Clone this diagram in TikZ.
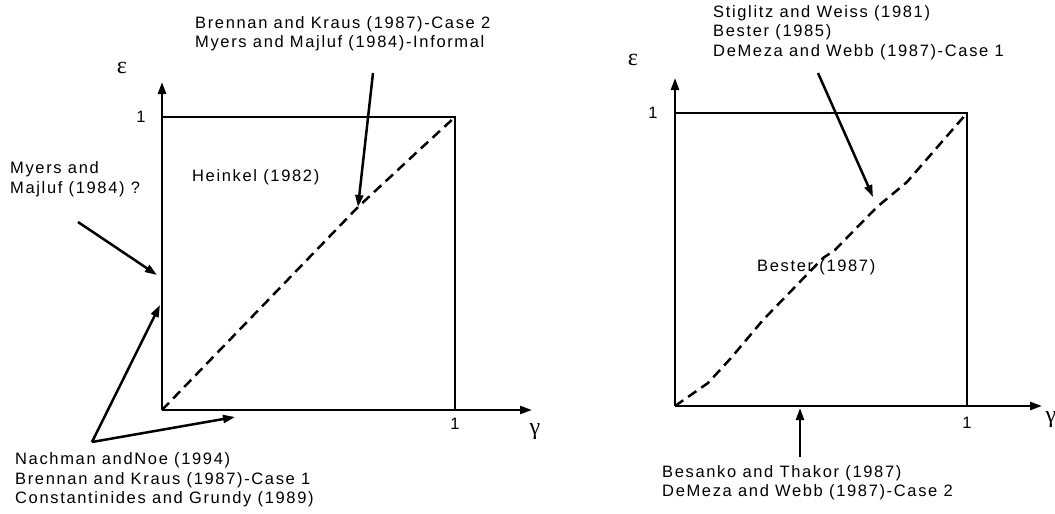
\documentclass[tikz,border=0pt]{standalone}
\usepackage{fontspec}
\setmainfont{Liberation Sans}
\newfontfamily\labfont[LetterSpace=10]{Liberation Sans}
\newfontfamily\grkfont{Liberation Serif}
\usetikzlibrary{arrows.meta}
\tikzset{
  lbl/.style={font=\labfont\fontsize{16.5}{19.5}\selectfont, inner sep=0pt, align=left, anchor=west},
  num/.style={font=\labfont\fontsize{16.5}{19.5}\selectfont, inner sep=0pt},
  grk/.style={font=\grkfont\fontsize{24}{24}\selectfont, inner sep=0pt},
  axis/.style={line width=2.5pt, -{Triangle[length=12pt,width=8pt]}},
  frame/.style={line width=2.5pt},
  diag/.style={line width=2.5pt, dash pattern=on 10pt off 6pt},
  pointer/.style={line width=2.5pt, -{Triangle[length=12pt,width=8pt]}},
}
\begin{document}
\begin{tikzpicture}[x=1pt,y=-1pt]
\useasboundingbox (0,0) rectangle (1055,514);
% ---------------- left panel ----------------
\coordinate (O1) at (162,410);
\coordinate (Y1) at (162,82);
\coordinate (X1) at (532,410);
\coordinate (TL1) at (162,117);
\coordinate (TR1) at (455,117);
\coordinate (BR1) at (455,410);
\coordinate (K1) at (358,207);
\draw[frame] (TL1) -- (TR1) -- (BR1);
\draw[axis] (O1) -- (Y1);
\draw[axis] (O1) -- (X1);
\draw[diag] (O1) -- (K1) -- (416,153) -- (TR1);
\node[num] (one1y) at (141,117) {1};
\node[num] (one1x) at (455,424) {1};
\node[grk] (eps1) at (122,68) {ε};
\node[grk] (gam1) at (535,432) {γ};
\node[lbl] (bk2) at (195,33.5) {Brennan and Kraus (1987)-Case 2\\Myers and Majluf (1984)-Informal};
\coordinate (bk2s) at (373,73);
\draw[pointer] (bk2s) -- (K1);
\node[lbl] (mm) at (10,179) {Myers and\\Majluf (1984) ?};
\coordinate (mms) at (78,222);
\coordinate (mmt) at (157,275);
\draw[pointer] (mms) -- (mmt);
\node[lbl] (hein) at (192,177) {Heinkel (1982)};
\node[lbl] (nach) at (15,480) {Nachman andNoe (1994)\\Brennan and Kraus (1987)-Case 1\\Constantinides and Grundy (1989)};
\coordinate (nachs) at (92,442);
\coordinate (nachy) at (160,305);
\coordinate (nachx) at (235,417);
\draw[pointer] (nachs) -- (nachy);
\draw[pointer] (nachs) -- (nachx);
% ---------------- right panel ----------------
\coordinate (O2) at (675,406);
\coordinate (Y2) at (675,78);
\coordinate (X2) at (1042,406);
\coordinate (TL2) at (675,113);
\coordinate (TR2) at (967,113);
\coordinate (BR2) at (967,406);
\coordinate (K2) at (877,207);
\draw[frame] (TL2) -- (TR2) -- (BR2);
\draw[axis] (O2) -- (Y2);
\draw[axis] (O2) -- (X2);
\draw[diag] (O2) -- (708,383) -- (731,358) -- (763,320) -- (823,258) -- (835,250) -- (K2) -- (907,182) -- (TR2);
\node[num] (one2y) at (653,113) {1};
\node[num] (one2x) at (967,423) {1};
\node[grk] (eps2) at (633,60) {ε};
\node[grk] (gam2) at (1051,420) {γ};
\node[lbl] (sw) at (713,32.5) {Stiglitz and Weiss (1981)\\Bester (1985)\\DeMeza and Webb (1987)-Case 1};
\coordinate (sws) at (818,73);
\coordinate (swt) at (873,197);
\draw[pointer] (sws) -- (swt);
\node[lbl] (best) at (757,267) {Bester (1987)};
\node[lbl] (bt) at (662,482.5) {Besanko and Thakor (1987)\\DeMeza and Webb (1987)-Case 2};
\coordinate (bts) at (800,457);
\coordinate (btt) at (800,408);
\draw[pointer] (bts) -- (btt);
\end{tikzpicture}
\end{document}
